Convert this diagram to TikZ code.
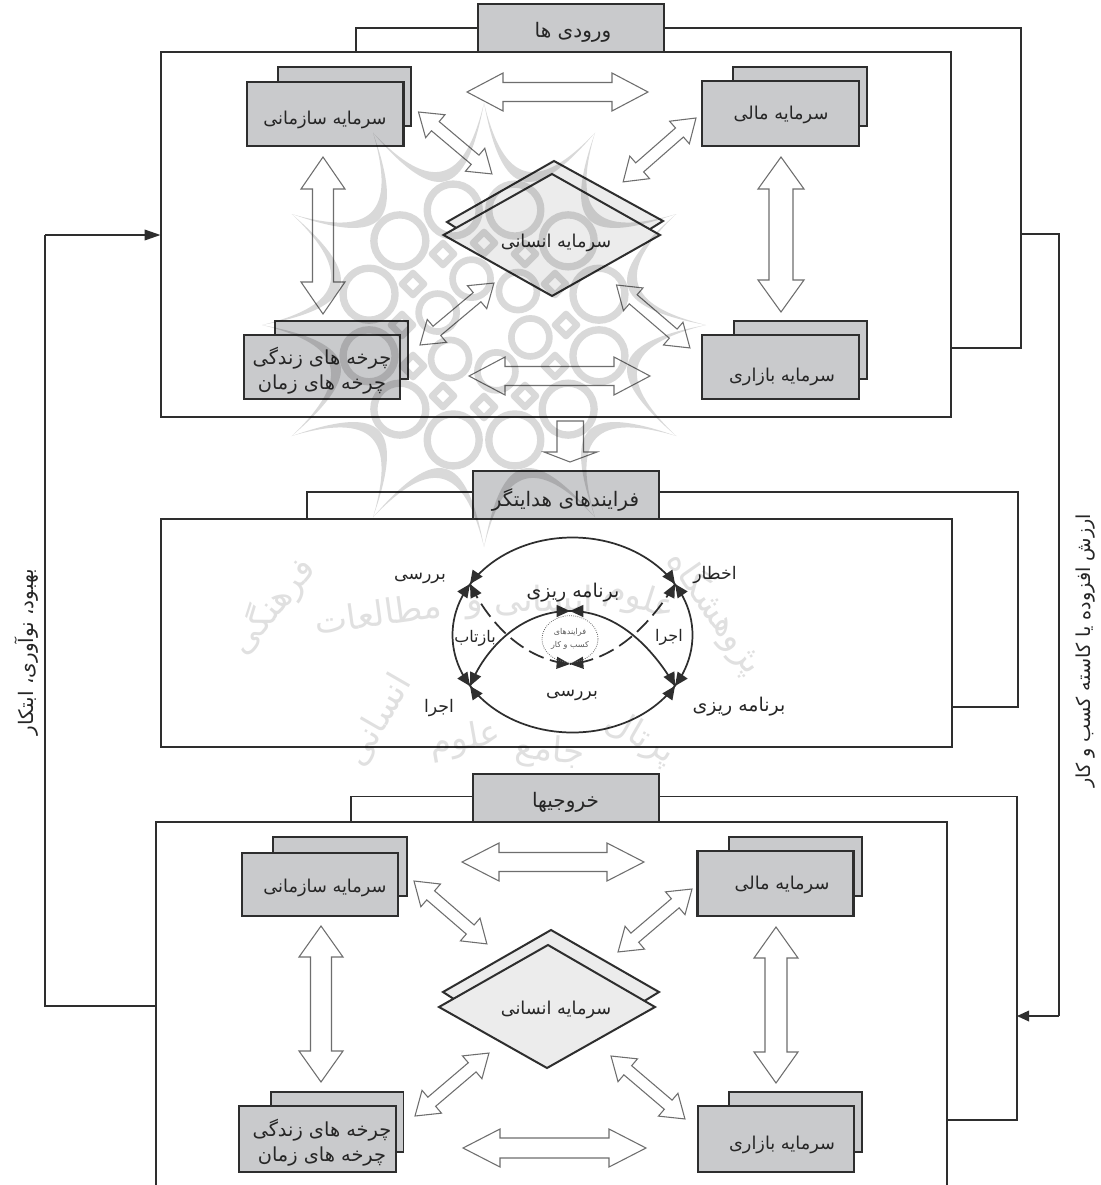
\documentclass[tikz,border=0pt]{standalone}
\usepackage{fontspec}
\usetikzlibrary{calc,arrows.meta,shapes.geometric}
\TeXXeTstate=1
\newfontfamily\fa[Script=Arabic]{DejaVu Sans}
\newcommand{\fat}[1]{{\fa\beginR #1\endR}}
\definecolor{boxgray}{HTML}{C9CACC}
\definecolor{dialight}{HTML}{ECECEC}
\definecolor{ink}{HTML}{2E2E2E}
\definecolor{arrowline}{HTML}{6E6E6E}
\tikzset{
  panel/.style={draw=ink,line width=1.5pt,fill=none,inner sep=0pt,outer sep=0pt},
  titlebox/.style={draw=ink,line width=1.5pt,fill=boxgray,inner sep=0pt,outer sep=0pt},
  frontbox/.style={draw=ink,line width=1.6pt,fill=boxgray,inner sep=0pt,outer sep=0pt},
  backbox/.style={draw=ink,line width=1.4pt,fill=boxgray,inner sep=0pt,outer sep=0pt},
  link/.style={draw=ink,line width=1.2pt},
  diaback/.style={draw=ink,line width=1.5pt,fill=dialight},
  openarrow/.style={draw=arrowline,line width=.8pt,fill=white,line join=miter},
  lab/.style={inner sep=0pt,outer sep=0pt,font=\fa\fontsize{13.3}{16}\selectfont,text=black!85,align=center},
  toplab/.style={lab,font=\fa\fontsize{15}{18}\selectfont},
  cyclelab/.style={lab,font=\fa\fontsize{14.5}{17}\selectfont},
  midlab/.style={lab,font=\fa\fontsize{13}{16}\selectfont},
  planlab/.style={lab,font=\fa\fontsize{14.2}{17}\selectfont},
  arclab/.style={lab,font=\fa\fontsize{12}{14}\selectfont},
  solidarc/.style={draw=ink,line width=1.3pt},
  dasharc/.style={solidarc,dash pattern=on 12pt off 5pt},
  wm/.style={inner sep=0pt,font=\fa\fontsize{26}{30}\selectfont,text=black},
}
% box given by its corners, in pixels
\newcommand{\pxbox}[6]{%
  \pgfmathsetmacro\cxx{(#3+#5)/2}\pgfmathsetmacro\cyy{(#4+#6)/2}%
  \node[#2,minimum width={(#5-(#3))*0.75pt},minimum height={(#6-(#4))*0.75pt}] (#1) at (\cxx,\cyy) {};}
% arrowhead on a curve of the cycle: tip at a named point, heading along an angle
\newcommand{\cycletip}[2]{\fill[ink,shift={(#1)},rotate=#2] (0pt,0pt) -- (-10pt,4.6pt) -- (-10pt,-4.6pt) -- cycle;}
% open double-headed block arrow between two named points
\newcommand{\dblarrow}[6]{%
  \coordinate (#1a) at #2; \coordinate (#1b) at #3;
  \path let \p1=($(#1b)-(#1a)$),\n1={atan2(\y1,\x1)},\n2={veclen(\x1,\y1)} in
    \pgfextra{\xdef\ang{\n1}\xdef\len{\n2}};
  \draw[openarrow,shift={(#1a)},rotate=\ang]
    (0pt,0pt) -- ({#6*0.75pt},{#5*0.75pt}) -- ({#6*0.75pt},{#4*0.75pt})
    -- ({\len-#6*0.75pt},{#4*0.75pt}) -- ({\len-#6*0.75pt},{#5*0.75pt}) -- (\len,0pt)
    -- ({\len-#6*0.75pt},{-#5*0.75pt}) -- ({\len-#6*0.75pt},{-#4*0.75pt})
    -- ({#6*0.75pt},{-#4*0.75pt}) -- ({#6*0.75pt},{-#5*0.75pt}) -- cycle;}
\begin{document}
\begin{tikzpicture}[x=0.75pt,y=-0.75pt]
\useasboundingbox (0,0) rectangle (1100,1185);
\clip (0,0) rectangle (1100,1185);
\fill[white] (0,0) rectangle (1100,1185);

%% ---------- top panel
\pxbox{p1}{panel}{160.5}{52}{951}{417}
\pxbox{t1}{titlebox}{477.5}{4}{664}{52}
\coordinate (p1l) at (356,52);
\coordinate (p1r) at (1021,348);
\coordinate (p1f) at (1021,234);
\draw[link] (t1.west) -| (p1l);
\draw[link] (t1.east) -| (p1r) -- (p1r -| p1.east);
\node[toplab] (t1x) at (573,32) {\fat{ورودی ها}};

\pxbox{b1b}{backbox}{278}{67}{411}{126}
\pxbox{b1f}{frontbox}{247}{82}{403.5}{146}
\node[lab] (b1x) at (325,120) {\fat{سرمایه سازمانی}};
\pxbox{b2b}{backbox}{733}{67}{867}{126}
\pxbox{b2f}{frontbox}{702}{81}{859}{146}
\node[lab] (b2x) at (781,115) {\fat{سرمایه مالی}};
\pxbox{b3b}{backbox}{275}{321}{408}{379}
\pxbox{b3f}{frontbox}{244}{335}{400}{399}
\node[cyclelab] (b3x) at (322,358) {\fat{چرخه های زندگی}};
\node[cyclelab] (b3y) at (322,385) {\fat{چرخه های زمان}};
\pxbox{b4b}{backbox}{734}{321}{867}{379}
\pxbox{b4f}{frontbox}{702}{335}{859}{399}
\node[lab] (b4x) at (782,377) {\fat{سرمایه بازاری}};

\coordinate (d1t) at (552,174); \coordinate (d1r) at (660,235);
\coordinate (d1b) at (552,296); \coordinate (d1l) at (443.5,235);
\draw[diaback] (447,222) -- (554,161) -- (663,221) -- (552,290) -- cycle;
\draw[diaback] (d1t) -- (d1r) -- (d1b) -- (d1l) -- cycle;
\node[lab] (d1x) at (556,243) {\fat{سرمایه انسانی}};

\dblarrow{h1}{(467,92)}{(648,92)}{9.5}{19}{36}
\dblarrow{h2}{(469,376)}{(650,376)}{9.5}{19}{36}
\dblarrow{v1}{(323,157)}{(323,314)}{10.5}{22}{32}
\dblarrow{v2}{(781,157)}{(781,312)}{12}{23}{32}
\dblarrow{g1}{(418.5,112)}{(492,174)}{6}{15}{22}
\dblarrow{g2}{(696,118)}{(623,182)}{6}{15}{22}
\dblarrow{g3}{(420,345)}{(494,283)}{6}{15}{22}
\dblarrow{g4}{(616.5,285)}{(690,348)}{6}{15}{22}

%% arrow between the panels
\coordinate (m1) at (570,421); \coordinate (m2) at (570,462);
\draw[openarrow] (m2) -- ++(-26,-10) -- ++(13,0) -- (557,421) -- (583.5,421) -- (583.5,452) -- (597,452) -- cycle;

%% ---------- middle panel
\pxbox{p2}{panel}{161}{519}{952}{747}
\pxbox{t2}{titlebox}{472.5}{471}{659}{519}
\coordinate (p2l) at (307,519);
\coordinate (p2r) at (1018,707);
\coordinate (t2a) at (472.5,492); \coordinate (t2c) at (659,492);
\draw[link] (t2a) -| (p2l);
\draw[link] (t2c) -| (p2r) -- (p2r -| p2.east);
\node[toplab] (t2x) at (565.5,500) {\fat{فرایندهای هدایتگر}};

\node[solidarc,ellipse,inner sep=0pt,outer sep=0pt,minimum width=180pt,minimum height=146.25pt] (ring) at (572.5,635) {};
\coordinate (TL) at (470,584); \coordinate (TR) at (675,584);
\coordinate (BL) at (470,686); \coordinate (BR) at (675,686);
\coordinate (CT) at (570,611); \coordinate (CB) at (570,664);
\draw[solidarc] (BL) .. controls (484,650) and (520,611) .. (CT);
\draw[solidarc] (BR) .. controls (655,652) and (620,611) .. (CT);
\draw[dasharc] (TL) .. controls (490,625) and (525,660) .. (CB);
\draw[dasharc] (TR) .. controls (650,625) and (615,660) .. (CB);
\cycletip{TL}{235}\cycletip{TL}{55}\cycletip{TL}{117}
\cycletip{TR}{-55}\cycletip{TR}{125}\cycletip{TR}{63}
\cycletip{BL}{-55}\cycletip{BL}{125}\cycletip{BL}{245}
\cycletip{BR}{235}\cycletip{BR}{55}\cycletip{BR}{-63}
\cycletip{CT}{0}\cycletip{CT}{180}
\cycletip{CB}{-5}\cycletip{CB}{185}
\node[draw=black!60,densely dotted,line width=.6pt,ellipse,inner sep=0pt,minimum width=42pt,minimum height=35pt,
      align=center,text=black!65,font=\fa\fontsize{6}{9}\selectfont] (c1) at (570,639)
      {\fat{فرایندهای}\\[1pt]\fat{کسب و کار}};
\node[midlab] (m3) at (420,578) {\fat{بررسی}};
\node[planlab] (m4) at (573,593) {\fat{برنامه ریزی}};
\node[midlab] (m5) at (715,575) {\fat{اخطار}};
\node[arclab] (m6) at (475,638) {\fat{بازتاب}};
\node[arclab] (m7) at (669,637) {\fat{اجرا}};
\node[midlab] (m8) at (572,695) {\fat{بررسی}};
\node[midlab] (m9) at (439,708) {\fat{اجرا}};
\node[planlab] (m10) at (739,707) {\fat{برنامه ریزی}};

%% ---------- bottom panel
\pxbox{p3}{panel}{156}{822}{947}{1200}
\pxbox{t3}{titlebox}{472.5}{774}{659}{822}
\coordinate (p3l) at (351,822);
\coordinate (p3r) at (1017,1120);
\coordinate (t3a) at (472.5,796.5); \coordinate (t3c) at (659,796.5);
\draw[link] (t3a) -| (p3l);
\draw[link] (t3c) -| (p3r) -- (p3r -| p3.east);
\node[toplab] (t3x) at (565.5,802) {\fat{خروجیها}};

\pxbox{q1b}{backbox}{273}{837}{407}{896}
\pxbox{q1f}{frontbox}{242}{853}{398}{916}
\node[lab] (q1x) at (325,888) {\fat{سرمایه سازمانی}};
\pxbox{q2b}{backbox}{729}{837}{862}{896}
\pxbox{q2f}{frontbox}{697.5}{851}{853.5}{916}
\node[lab] (q2x) at (782,885) {\fat{سرمایه مالی}};
\pxbox{q3b}{backbox}{271}{1092}{403.5}{1152}
\pxbox{q3f}{frontbox}{239}{1106}{396}{1172}
\node[cyclelab] (q3x) at (322,1130) {\fat{چرخه های زندگی}};
\node[cyclelab] (q3y) at (322,1157) {\fat{چرخه های زمان}};
\pxbox{q4b}{backbox}{729}{1092}{862}{1152}
\pxbox{q4f}{frontbox}{698}{1106}{854}{1172}
\node[lab] (q4x) at (782,1145) {\fat{سرمایه بازاری}};

\coordinate (d2t) at (548,945); \coordinate (d2r) at (655,1007);
\coordinate (d2b) at (547,1068); \coordinate (d2l) at (439,1007);
\draw[diaback] (443,992) -- (551,930) -- (659,992) -- (548,1060) -- cycle;
\draw[diaback] (d2t) -- (d2r) -- (d2b) -- (d2l) -- cycle;
\node[lab] (d2x) at (556,1010) {\fat{سرمایه انسانی}};

\dblarrow{h3}{(462,862)}{(644,862)}{9.5}{19}{37}
\dblarrow{h4}{(463,1148)}{(646,1148)}{10}{19}{37}
\dblarrow{v3}{(321,926)}{(321,1082)}{10.5}{22}{31}
\dblarrow{v4}{(776,927)}{(776,1083)}{11}{22}{31}
\dblarrow{k1}{(414,881)}{(487,944)}{6}{15}{22}
\dblarrow{k2}{(692,889)}{(618,952)}{6}{15}{22}
\dblarrow{k3}{(415,1116)}{(489,1053)}{6}{15}{22}
\dblarrow{k4}{(611,1056)}{(685,1119)}{6}{15}{22}

%% ---------- feedback lines
\coordinate (fl1) at (45,1006);
\coordinate (fl2) at (45,235);
\draw[link] (fl1 -| p3.west) -- (fl1) -- (fl2);
\draw[link,-{Triangle[length=12pt,width=8pt]}] (fl2) -- (fl2 -| p1.west);
\coordinate (fr1) at (1059,234);
\coordinate (fr2) at (1059,1016);
\draw[link,line width=1pt] (p1f) -- (fr1) -- (fr2);
\draw[link,line width=1pt,-{Triangle[length=9pt,width=8pt]}] (fr2) -- (fr2 -| p3r);

\node[lab,rotate=90,font=\fa\fontsize{15}{18}\selectfont] (sl) at (27,652) {\fat{بهبود، نوآوری، ابتکار}};
\node[lab,rotate=90,font=\fa\fontsize{14.4}{17}\selectfont] (sr) at (1086,651) {\fat{ارزش افزوده یا کاسته کسب و کار}};

%% ---------- watermark, laid over everything
\begin{scope}[transparency group,opacity=.15]
  \foreach \a in {0,30,...,330}{
    \pgfmathsetmacro\bb{\a+30}
    \fill ({484+222*cos(\a)},{325+222*sin(\a)})
      .. controls ({484+142*cos(\a+8)},{325+142*sin(\a+8)}) and ({484+142*cos(\a+22)},{325+142*sin(\a+22)})
      .. ({484+222*cos(\bb)},{325+222*sin(\bb)})
      .. controls ({484+128*cos(\a+22)},{325+128*sin(\a+22)}) and ({484+128*cos(\a+8)},{325+128*sin(\a+8)})
      .. cycle;
    \draw[line width=5.5pt] ({484+119*cos(\a+15)},{325+119*sin(\a+15)}) circle[radius=26];
    \draw[line width=5pt,line join=round] ({484+82*cos(\a)+11},{325+82*sin(\a)}) -- ({484+82*cos(\a)},{325+82*sin(\a)-11})
       -- ({484+82*cos(\a)-11},{325+82*sin(\a)}) -- ({484+82*cos(\a)},{325+82*sin(\a)+11}) -- cycle;
  }
  \foreach \a in {15,75,...,315}{
    \draw[line width=5pt] ({484+48*cos(\a)},{325+48*sin(\a)}) circle[radius=19];
  }
\end{scope}
\begin{scope}[transparency group,opacity=.12]
  \node[wm,rotate=-55] (w1) at (716,612) {\fat{پژوهشگاه}};
  \node[wm,rotate=-18] (w2) at (640,600) {\fat{علوم}};
  \node[wm] (w3) at (530,603) {\fat{انسانی و}};
  \node[wm,rotate=8] (w4) at (378,613) {\fat{مطالعات}};
  \node[wm,rotate=50] (w5) at (272,606) {\fat{فرهنگی}};
  \node[wm,rotate=-30] (w6) at (640,738) {\fat{پرتال}};
  \node[wm,rotate=-5] (w7) at (550,752) {\fat{جامع}};
  \node[wm,rotate=10] (w8) at (465,740) {\fat{علوم}};
  \node[wm,rotate=60] (w9) at (378,720) {\fat{انسانی}};
\end{scope}
\end{tikzpicture}
\end{document}
